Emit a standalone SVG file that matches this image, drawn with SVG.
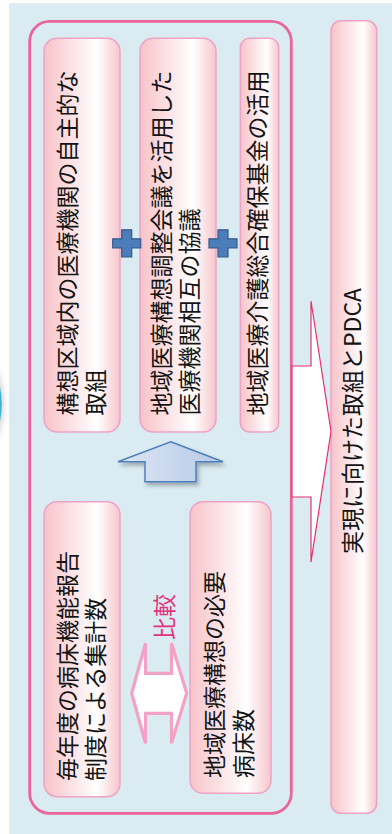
<svg xmlns="http://www.w3.org/2000/svg" width="392" height="834" viewBox="0 0 392 834">
<style>
.box{fill:url(#pinkGrad);stroke:#f0a2c4;stroke-width:1.5}
.t{font-family:"Noto Sans CJK JP","Noto Sans",sans-serif;font-size:23px;fill:#141414;dominant-baseline:central}
.cmp{font-family:"Noto Sans CJK JP","Noto Sans",sans-serif;font-size:23px;fill:#e4327c;dominant-baseline:central}
</style>
<defs>
<linearGradient id="pinkGrad" x1="0" y1="0" x2="1" y2="0">
<stop offset="0" stop-color="#f7c3c9"/>
<stop offset="0.7" stop-color="#ffffff"/>
<stop offset="1" stop-color="#f6c6cc"/>
</linearGradient>
<linearGradient id="blueGrad" x1="0" y1="0" x2="1" y2="0">
<stop offset="0" stop-color="#dde6f4"/>
<stop offset="1" stop-color="#b6cae7"/>
</linearGradient>
<filter id="shadow" x="-20%" y="-20%" width="150%" height="160%">
<feDropShadow dx="2" dy="3" stdDeviation="2" flood-color="#000" flood-opacity="0.3"/>
</filter>
<filter id="blur" x="-50%" y="-50%" width="200%" height="200%">
<feGaussianBlur stdDeviation="3"/>
</filter>
<path id="plus" d="M-5,-13.5 H5 V-4.5 H14 V4.5 H5 V13.5 H-5 V4.5 H-14 V-4.5 H-5 Z" fill="#4a7dba" stroke="#345a8c" stroke-width="1.2"/>
</defs>

<g id="background">
<rect x="9" y="3" width="383" height="831" fill="#daecf2"/>
<ellipse cx="-64" cy="404" rx="63" ry="72" fill="none" stroke="#555" stroke-width="7" opacity="0.35" filter="url(#blur)"/>
<ellipse cx="-61.5" cy="404" rx="62" ry="70" fill="none" stroke="#3fb3d3" stroke-width="2.5"/>
<rect id="outer-frame" x="29.7" y="21.3" width="261.6" height="792" rx="20" fill="none" stroke="#e9659a" stroke-width="2.8"/>
</g>

<g id="node-voluntary">
<rect class="box" x="44" y="38.3" width="76" height="393.7" rx="13"/>
<text class="t" transform="translate(65.5,415.5) rotate(-90)">構想区域内の医療機関の自主的な</text>
<text class="t" transform="translate(93.5,415.5) rotate(-90)">取組</text>
</g>

<g id="node-council">
<rect class="box" x="140" y="38.3" width="76" height="393.7" rx="13"/>
<text class="t" transform="translate(160,415.5) rotate(-90)">地域医療構想調整会議を活用した</text>
<text class="t" transform="translate(188,415.5) rotate(-90)">医療機関相互の協議</text>
</g>

<g id="node-fund">
<rect class="box" x="240.3" y="38.3" width="38.4" height="393.7" rx="9"/>
<text class="t" transform="translate(255.5,415.5) rotate(-90)">地域医療介護総合確保基金の活用</text>
</g>

<g id="node-pdca">
<rect class="box" x="331" y="20.7" width="45.7" height="792.6" rx="10"/>
<text class="t" transform="translate(351,554) rotate(-90)">実現に向けた取組とPDCA</text>
</g>

<g id="node-report">
<rect class="box" x="44" y="501.7" width="76" height="295" rx="13"/>
<text class="t" transform="translate(65.5,781) rotate(-90)">毎年度の病床機能報告</text>
<text class="t" transform="translate(93.5,781) rotate(-90)">制度による集計数</text>
</g>

<g id="node-required">
<rect class="box" x="190" y="501.7" width="81" height="291.6" rx="13"/>
<text class="t" transform="translate(213,778) rotate(-90)">地域医療構想の必要</text>
<text class="t" transform="translate(242,778) rotate(-90)">病床数</text>
</g>

<g id="connectors">
<path id="pdca-arrow" d="M292,366 H311 V301 L331,431.5 L311,562 V497 H292 Z" fill="#ffffff" stroke="#e5306c" stroke-width="1.2" stroke-linejoin="miter"/>
<path id="up-arrow" d="M170.7,441.7 L223,461.7 H196 V481.7 H145 V461.7 H118 Z" fill="url(#blueGrad)" stroke="#4f80bd" stroke-width="1.5" filter="url(#shadow)"/>
<use href="#plus" x="126.7" y="243.3"/>
<use href="#plus" x="223" y="243.3"/>
<path id="compare-arrow" d="M131.7,693.3 L145.5,643.3 V673.3 H171.5 V643.3 L186.7,693.3 L171.5,743.3 V713.3 H145.5 V743.3 Z" fill="#ffffff" stroke="#f3a2c5" stroke-width="3.2" stroke-linejoin="miter"/>
<text class="cmp" transform="translate(162.5,640) rotate(-90)">比較</text>
</g>
</svg>
